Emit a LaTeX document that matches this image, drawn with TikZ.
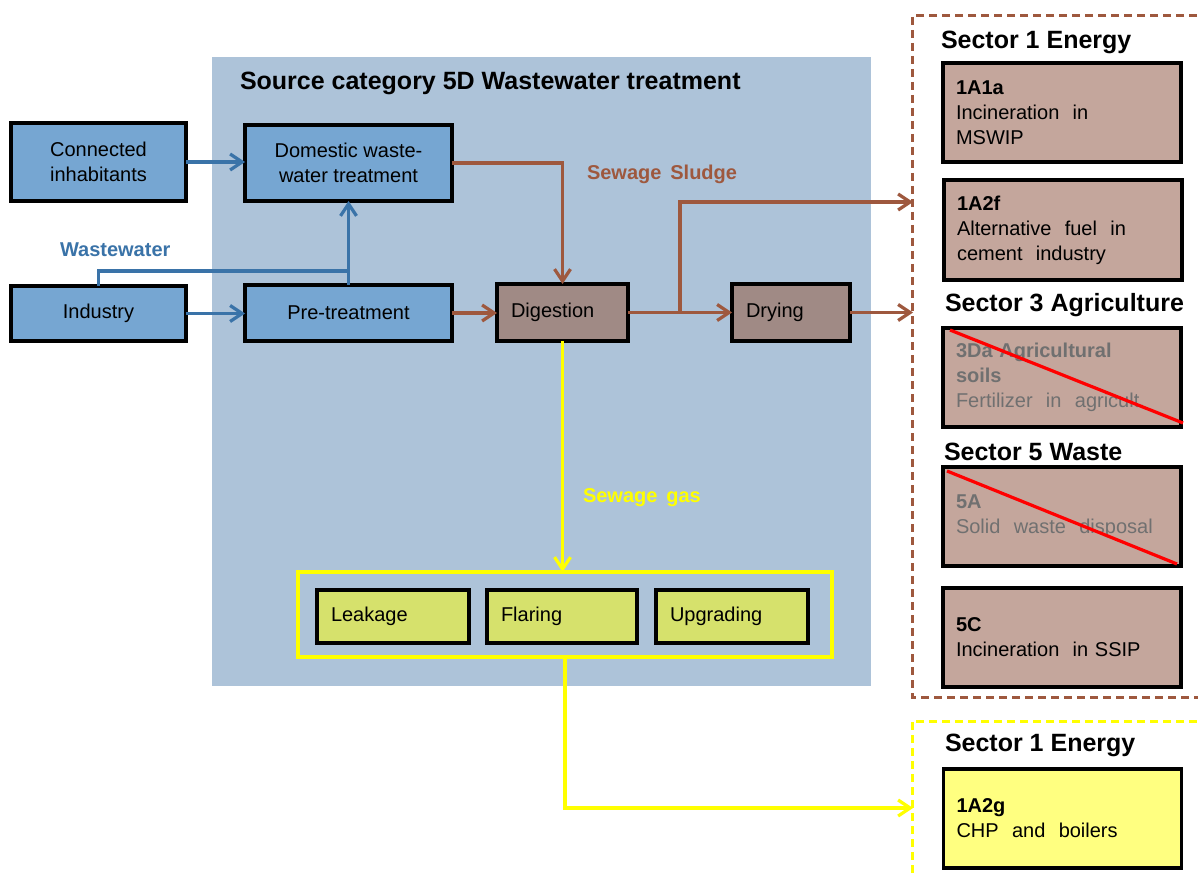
\documentclass[tikz,border=0pt]{standalone}
\usepackage{fontspec}
\setmainfont{Liberation Sans}
\usetikzlibrary{arrows.meta,calc}
\definecolor{bg}{RGB}{173,195,217}
\definecolor{bluebox}{RGB}{118,166,210}
\definecolor{bluearrow}{RGB}{58,115,168}
\definecolor{brownarrow}{RGB}{158,88,62}
\definecolor{digfill}{RGB}{160,138,133}
\definecolor{secfill}{RGB}{196,166,156}
\definecolor{gasfill}{RGB}{214,225,108}
\definecolor{chpfill}{RGB}{255,255,128}
\definecolor{greytext}{RGB}{112,112,112}
\definecolor{yel}{RGB}{255,255,0}
\begin{document}
\begin{tikzpicture}[x=1pt,y=-1pt,
  every node/.style={font=\fontsize{20}{25}\selectfont, inner sep=0pt, outer sep=0pt},
  box/.style={draw=black, line width=3.6pt},
  cbox/.style={box, align=center},
  lbox/.style={box, align=left, inner xsep=14pt},
  secbox/.style={box, fill=secfill, align=left, inner xsep=13pt, text width=212pt, minimum height=99pt},
  heading/.style={font=\fontsize{25}{29}\selectfont\bfseries, anchor=west},
  flowlabel/.style={font=\fontsize{20}{24}\selectfont\bfseries, anchor=west},
  tip/.style={-{Straight Barb[length=12pt,width=16pt]}},
  blueflow/.style={draw=bluearrow, line width=3.2pt},
  brownflow/.style={draw=brownarrow, line width=3.2pt},
  yelflow/.style={draw=yel, line width=3.2pt},
  crossout/.style={draw=red, line width=3.2pt},
  dashedframe/.style={line width=3pt, dash pattern=on 8pt off 5pt}
]
\useasboundingbox (0,0) rectangle (1198,877);
\fill[white] (0,0) rectangle (1198,877);

% background of source category
\fill[bg] (212,57) rectangle (871,686);
\node[heading] (title) at (240,83) {Source category 5D Wastewater treatment};

% left boxes
\node[cbox, fill=bluebox, minimum width=175pt, minimum height=78pt] (ci) at (98.5,162) {Connected\\inhabitants};
\node[cbox, fill=bluebox, minimum width=207pt, minimum height=76pt] (dom) at (348.5,163) {Domestic waste-\\water treatment};
\node[cbox, fill=bluebox, minimum width=175pt, minimum height=55pt] (ind) at (98.5,313.5) {Industry};
\node[cbox, fill=bluebox, minimum width=207pt, minimum height=56pt] (pre) at (348.5,313) {Pre-treatment};
\node[lbox, fill=digfill, text width=103pt, minimum height=57pt] (dig) at (562.5,312.5) {Digestion};
\node[lbox, fill=digfill, text width=90pt, minimum height=57pt] (dry) at (791,312.5) {Drying};

% gas group
\node[draw=yel, line width=3.2pt, minimum width=534pt, minimum height=85pt] (gas) at (565,614.5) {};
\node[lbox, fill=gasfill, text width=124pt, minimum height=53pt] (leak) at (393,616.5) {Leakage};
\node[lbox, fill=gasfill, text width=122pt, minimum height=53pt] (flar) at (562,616.5) {Flaring};
\node[lbox, fill=gasfill, text width=124pt, minimum height=53pt] (upg) at (732,616.5) {Upgrading};

% labels
\node[flowlabel, text=bluearrow] (wwlab) at (60,250) {Wastewater};
\node[flowlabel, text=brownarrow] (sslab) at (587,174) {Sewage\ \,Sludge};
\node[flowlabel, text=yel] (sglab) at (583,498) {Sewage\ \,gas};

% sector frames
\draw[dashedframe, draw=brownarrow] (1210,16) -- (912,16) -- (912,697) -- (1210,697);
\draw[dashedframe, draw=yel] (1210,721) -- (912,721) -- (912,890);

\node[heading] (h1) at (941,42) {Sector 1 Energy};
\node[secbox] (a1) at (1062,112.5) {\textbf{1A1a}\\Incineration\ \ in\\MSWIP};
\node[secbox, minimum height=100pt] (a2) at (1063,230) {\textbf{1A2f}\\Alternative\ \ fuel\ \ in\\cement\ \ industry};
\node[heading] (h3) at (945,305) {Sector 3 Agriculture};
\node[secbox, text=greytext] (a3) at (1062,377.5) {\textbf{3Da Agricultural}\\\textbf{soils}\\Fertilizer\ \ in\ \ agricult.};
\node[heading] (h5) at (944,452) {Sector 5 Waste};
\node[secbox, text=greytext] (a5) at (1062,516.5) {\textbf{5A}\\Solid\ \ waste\ \ disposal};
\node[secbox] (c5) at (1062,637.5) {\textbf{5C}\\Incineration\ \ in\ SSIP};
\node[heading] (h1b) at (945,745) {Sector 1 Energy};
\node[secbox, fill=chpfill] (g) at (1062.5,818.5) {\textbf{1A2g}\\CHP\ \ and\ \ boilers};

\draw[crossout] ($(a3.north west)+(7,2)$) -- ($(a3.south east)+(2,-4)$);
\draw[crossout] ($(a5.north west)+(4,4)$) -- ($(a5.south east)+(-4,-2)$);

% coordinates for free ends
\coordinate (wj) at (348.5,271);
\coordinate (br) at (680,313);
\coordinate (s1in) at (913,202);
\coordinate (s2in) at (913,312.5);
\coordinate (g1in) at (913,808);

% blue connectors
\draw[blueflow, tip] (ci.east) -- (ci.east -| dom.west);
\draw[blueflow, tip] (ind.east) -- (ind.east -| pre.west);
\draw[blueflow] (ind.north) |- (wj);
\draw[blueflow, tip] (pre.north) -- (dom.south);

% brown connectors
\draw[brownflow, tip] (dom.east) -| (dig.north);
\draw[brownflow, tip] (pre.east) -- (pre.east -| dig.west);
\draw[brownflow, tip] (dig.east) -- (dig.east -| dry.west);
\draw[brownflow, tip] (br) |- (s1in);
\draw[brownflow, tip] (dry.east) -- (s2in);

% yellow connectors
\draw[yelflow, tip] (dig.south) -- (dig.south |- gas.north);
\draw[yelflow, tip] (gas.south) |- (g1in);
\end{tikzpicture}
\end{document}
